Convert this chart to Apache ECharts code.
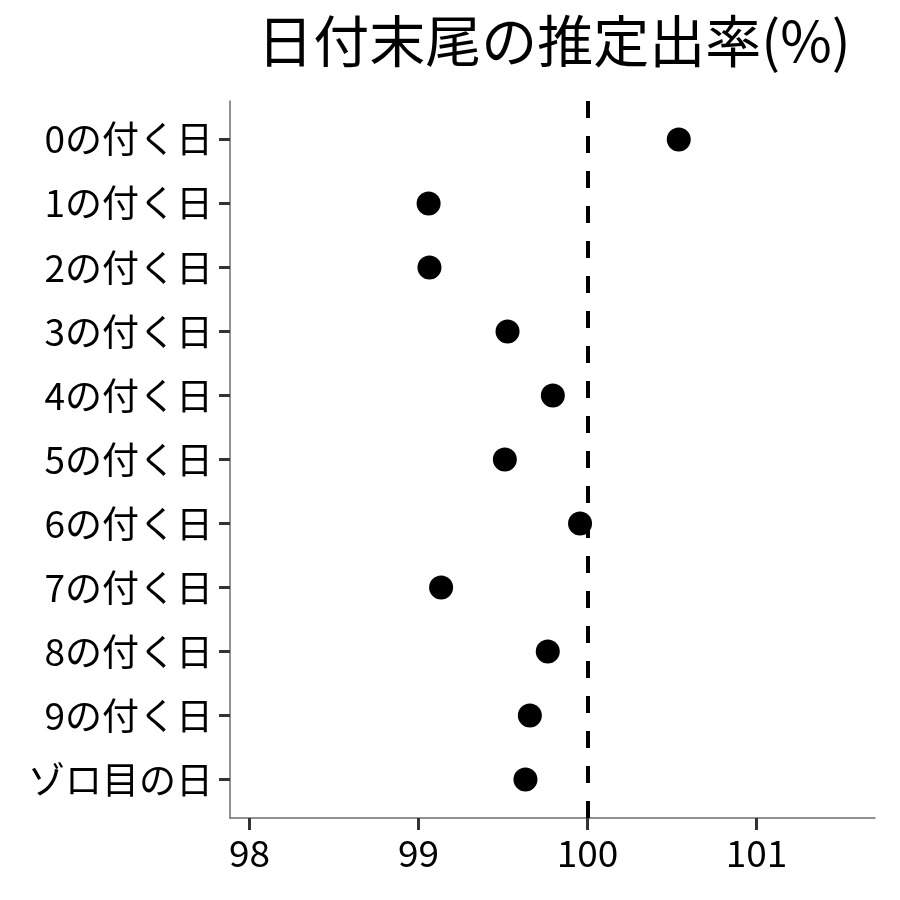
<!DOCTYPE html>
<html>
<head>
<meta charset="utf-8">
<script src="https://cdn.jsdelivr.net/npm/echarts@6/dist/echarts.min.js"></script>
<style>html,body{margin:0;padding:0;background:#fff}#c{width:900px;height:900px}</style>
</head>
<body>
<div id="c"></div>
<script>
const titleText = '日付末尾の推定出率(%)';
const categories = ['0の付く日','1の付く日','2の付く日','3の付く日','4の付く日','5の付く日','6の付く日','7の付く日','8の付く日','9の付く日','ゾロ目の日'];
const values = [100.54, 99.06, 99.065, 99.527, 99.795, 99.511, 99.956, 99.134, 99.765, 99.659, 99.633];
const xTicks = [98, 99, 100, 101];
const refValue = 100;

const FONT = '"Noto Sans CJK JP", "Noto Sans", sans-serif';
const chart = echarts.init(document.getElementById('c'), null, {renderer: 'canvas'});
const yIdx = categories.map((c, i) => i);
chart.setOption({
  backgroundColor: '#ffffff',
  animation: false,
  title: {
    text: titleText,
    left: 549, top: 8, textAlign: 'center',
    textStyle: {fontFamily: FONT, fontSize: 56, fontWeight: 'normal', color: '#000'}
  },
  grid: {left: 230, right: 25, top: 101, bottom: 82},
  xAxis: {
    type: 'value', min: 97.885, max: 101.701,
    splitLine: {show: false},
    axisLine: {show: true, onZero: false, lineStyle: {color: '#6e6e6e', width: 1.5}},
    axisTick: {show: true, length: 12, lineStyle: {color: '#333', width: 3}, customValues: xTicks},
    axisLabel: {customValues: xTicks, margin: 16, fontFamily: FONT, fontSize: 37, color: '#000'}
  },
  yAxis: {
    type: 'value', min: -0.6, max: 10.6, inverse: true,
    splitLine: {show: false},
    axisLine: {show: true, onZero: false, lineStyle: {color: '#6e6e6e', width: 1.5}},
    axisTick: {show: true, length: 11, lineStyle: {color: '#333', width: 3}, customValues: yIdx},
    axisLabel: {customValues: yIdx, margin: 17, fontFamily: FONT, fontSize: 37, color: '#000',
      formatter: v => categories[Math.round(v)]}
  },
  series: [{
    type: 'scatter',
    symbol: 'circle', symbolSize: 24,
    itemStyle: {color: '#000', opacity: 1},
    data: values.map((v, i) => [v, i]),
    markLine: {
      silent: true, symbol: ['none','none'], label: {show: false},
      lineStyle: {color: '#000', width: 4, type: [17, 18]},
      data: [{xAxis: refValue}]
    },
    z: 3
  }]
});
</script>
</body>
</html>
